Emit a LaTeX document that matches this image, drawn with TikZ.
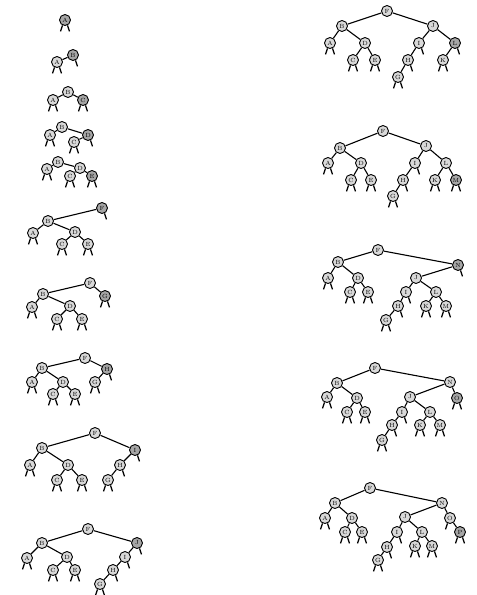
\documentclass[tikz,border=0pt]{standalone}
\begin{document}
\begin{tikzpicture}[x=1pt,y=-1pt,
  nd/.style={circle,draw,line width=0.9pt,fill=gray!30,inner sep=0pt,minimum size=11pt,font=\fontsize{6}{6}\selectfont},
  nw/.style={fill=gray!70},
  legline/.style={line width=1.3pt},
  lf/.style={append after command={(\tikzlastnode.-115) edge[legline] ++(-2,6)}},
  rf/.style={append after command={(\tikzlastnode.-65) edge[legline] ++(2,6)}},
  bf/.style={lf,rf},
  ed/.style={line width=1.1pt}]
\newcommand\nd[4][]{\node[nd,#1] (#2) at (#3) {#4};}
\useasboundingbox (0,0) rectangle (477,595);
% L1
\nd[nw,bf]{t1A}{65,20}{A}
% L2
\nd[nw,rf]{t2B}{73,55}{B}
\nd[bf]{t2A}{57,62}{A}
\draw[ed] (t2B) -- (t2A);
% L3
\nd{t3B}{68,92}{B}
\nd[bf]{t3A}{53,100}{A}
\nd[nw,bf]{t3C}{83,100}{C}
\foreach \a/\b in {B/A,B/C} \draw[ed] (t3\a) -- (t3\b);
% L4
\nd{t4B}{62,127}{B}
\nd[bf]{t4A}{50,135}{A}
\nd[nw,rf]{t4D}{88,135}{D}
\nd[bf]{t4C}{74,142}{C}
\foreach \a/\b in {B/A,B/D,D/C} \draw[ed] (t4\a) -- (t4\b);
% L5
\nd{t5B}{58,162}{B}
\nd[bf]{t5A}{47,169}{A}
\nd{t5D}{80,168}{D}
\nd[bf]{t5C}{70,176}{C}
\nd[nw,bf]{t5E}{92,176}{E}
\foreach \a/\b in {B/A,B/D,D/C,D/E} \draw[ed] (t5\a) -- (t5\b);
% L6
\nd[nw,rf]{t6F}{102,208}{F}
\nd{t6B}{48,221}{B}
\nd[bf]{t6A}{33,233}{A}
\nd{t6D}{75,232}{D}
\nd[bf]{t6C}{62,244}{C}
\nd[bf]{t6E}{88,244}{E}
\foreach \a/\b in {F/B,B/A,B/D,D/C,D/E} \draw[ed] (t6\a) -- (t6\b);
% L7
\nd{t7F}{90,283}{F}
\nd[nw,bf]{t7G}{105,296}{G}
\nd{t7B}{43,294}{B}
\nd[bf]{t7A}{32,307}{A}
\nd{t7D}{70,306}{D}
\nd[bf]{t7C}{57,319}{C}
\nd[bf]{t7E}{82,319}{E}
\foreach \a/\b in {F/B,F/G,B/A,B/D,D/C,D/E} \draw[ed] (t7\a) -- (t7\b);
% L8
\nd{t8F}{85,358}{F}
\nd{t8B}{42,368}{B}
\nd[nw,rf]{t8H}{107,369}{H}
\nd[bf]{t8A}{32,382}{A}
\nd{t8D}{63,382}{D}
\nd[bf]{t8C}{53,394}{C}
\nd[bf]{t8E}{75,394}{E}
\nd[bf]{t8G}{95,382}{G}
\foreach \a/\b in {F/B,F/H,H/G,B/A,B/D,D/C,D/E} \draw[ed] (t8\a) -- (t8\b);
% L9
\nd{t9F}{95,433}{F}
\nd{t9B}{42,448}{B}
\nd[nw,rf]{t9I}{135,450}{I}
\nd[bf]{t9A}{30,465}{A}
\nd{t9D}{68,465}{D}
\nd[bf]{t9C}{57,480}{C}
\nd[bf]{t9E}{82,480}{E}
\nd[rf]{t9H}{120,465}{H}
\nd[bf]{t9G}{108,480}{G}
\foreach \a/\b in {F/B,F/I,I/H,H/G,B/A,B/D,D/C,D/E} \draw[ed] (t9\a) -- (t9\b);
% L10
\nd{t10F}{88,529}{F}
\nd{t10B}{42,543}{B}
\nd[nw,rf]{t10J}{137,543}{J}
\nd[bf]{t10A}{27,558}{A}
\nd{t10D}{67,557}{D}
\nd[bf]{t10C}{53,570}{C}
\nd[bf]{t10E}{75,570}{E}
\nd[rf]{t10I}{125,557}{I}
\nd[rf]{t10H}{113,570}{H}
\nd[bf]{t10G}{100,584}{G}
\foreach \a/\b in {F/B,F/J,J/I,I/H,H/G,B/A,B/D,D/C,D/E} \draw[ed] (t10\a) -- (t10\b);
% R1
\nd{r1F}{387,11}{F}
\nd{r1B}{342,26}{B}
\nd{r1J}{433,26}{J}
\nd[bf]{r1A}{330,43}{A}
\nd{r1D}{365,43}{D}
\nd[bf]{r1C}{353,60}{C}
\nd[bf]{r1E}{375,60}{E}
\nd[rf]{r1I}{419,43}{I}
\nd[rf]{r1H}{408,60}{H}
\nd[bf]{r1G}{398,77}{G}
\nd[nw,rf]{r1L}{455,43}{L}
\nd[bf]{r1K}{443,60}{K}
\foreach \a/\b in {F/B,F/J,B/A,B/D,D/C,D/E,J/I,I/H,H/G,J/L,L/K} \draw[ed] (r1\a) -- (r1\b);
% R2
\nd{r2F}{383,131}{F}
\nd{r2B}{340,148}{B}
\nd{r2J}{426,146}{J}
\nd[bf]{r2A}{328,163}{A}
\nd{r2D}{361,163}{D}
\nd[bf]{r2C}{351,180}{C}
\nd[bf]{r2E}{371,180}{E}
\nd[rf]{r2I}{415,163}{I}
\nd[rf]{r2H}{403,180}{H}
\nd[bf]{r2G}{393,196}{G}
\nd{r2L}{446,163}{L}
\nd[bf]{r2K}{435,180}{K}
\nd[nw,bf]{r2M}{456,180}{M}
\foreach \a/\b in {F/B,F/J,B/A,B/D,D/C,D/E,J/I,I/H,H/G,J/L,L/K,L/M} \draw[ed] (r2\a) -- (r2\b);
% R3
\nd{r3F}{378,250}{F}
\nd{r3B}{338,262}{B}
\nd[nw,rf]{r3N}{458,265}{N}
\nd[bf]{r3A}{328,278}{A}
\nd{r3D}{358,278}{D}
\nd[bf]{r3C}{350,292}{C}
\nd[bf]{r3E}{368,292}{E}
\nd{r3J}{416,278}{J}
\nd[rf]{r3I}{406,292}{I}
\nd[rf]{r3H}{398,306}{H}
\nd[bf]{r3G}{386,320}{G}
\nd{r3L}{436,292}{L}
\nd[bf]{r3K}{426,306}{K}
\nd[bf]{r3M}{446,306}{M}
\foreach \a/\b in {F/B,F/N,N/J,B/A,B/D,D/C,D/E,J/I,I/H,H/G,J/L,L/K,L/M} \draw[ed] (r3\a) -- (r3\b);
% R4
\nd{r4F}{375,368}{F}
\nd{r4B}{337,383}{B}
\nd{r4N}{450,382}{N}
\nd[nw,bf]{r4O}{457,398}{O}
\nd[bf]{r4A}{327,397}{A}
\nd{r4D}{357,398}{D}
\nd[bf]{r4C}{347,412}{C}
\nd[bf]{r4E}{365,412}{E}
\nd{r4J}{410,397}{J}
\nd[rf]{r4I}{402,412}{I}
\nd[rf]{r4H}{392,425}{H}
\nd[bf]{r4G}{382,440}{G}
\nd{r4L}{430,412}{L}
\nd[bf]{r4K}{420,425}{K}
\nd[bf]{r4M}{440,425}{M}
\foreach \a/\b in {F/B,F/N,N/J,N/O,B/A,B/D,D/C,D/E,J/I,I/H,H/G,J/L,L/K,L/M} \draw[ed] (r4\a) -- (r4\b);
% R5
\nd{r5F}{370,488}{F}
\nd{r5B}{335,503}{B}
\nd{r5N}{442,503}{N}
\nd[bf]{r5A}{325,518}{A}
\nd{r5D}{352,518}{D}
\nd[bf]{r5C}{345,532}{C}
\nd[bf]{r5E}{362,532}{E}
\nd{r5J}{405,517}{J}
\nd[lf]{r5O}{450,518}{O}
\nd[nw,bf]{r5P}{460,532}{P}
\nd[rf]{r5I}{397,532}{I}
\nd{r5L}{422,532}{L}
\nd[rf]{r5H}{387,547}{H}
\nd[bf]{r5G}{378,560}{G}
\nd[bf]{r5K}{415,546}{K}
\nd[bf]{r5M}{432,546}{M}
\foreach \a/\b in {F/B,F/N,N/J,N/O,O/P,B/A,B/D,D/C,D/E,J/I,I/H,H/G,J/L,L/K,L/M} \draw[ed] (r5\a) -- (r5\b);
\end{tikzpicture}
\end{document}
